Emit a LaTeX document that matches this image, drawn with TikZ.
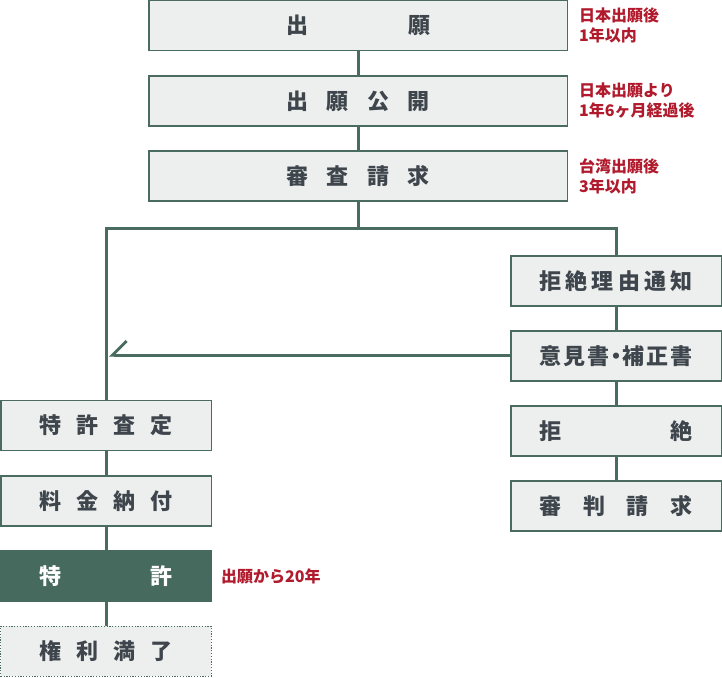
\documentclass[tikz,border=0pt]{standalone}
\usepackage{fontspec}
\setmainfont{Noto Sans CJK JP}
\usepackage{xcolor}
\usepackage{tikz}
\usetikzlibrary{arrows.meta, positioning}
\definecolor{boxFill}{HTML}{ECEFED}
\definecolor{boxLine}{HTML}{4A6B60}
\definecolor{grantFill}{HTML}{476A5E}
\definecolor{ink}{HTML}{3E454C}
\definecolor{limit}{HTML}{B01A2C}
\newcommand{\spread}[2]{\makebox[#1]{#2}}

\begin{document}
\begin{tikzpicture}[x=1pt, y=-1pt,
  every node/.style={font=\bfseries\fontsize{22}{26}\selectfont, color=ink},
  pbox/.style={draw=boxLine, fill=boxFill, line width=1.5pt,
    minimum height=50pt, inner sep=0pt},
  wbox/.style={pbox, minimum width=418.5pt},
  nbox/.style={pbox, minimum width=210.5pt},
  pnote/.style={anchor=west, align=left, inner sep=0pt, color=limit,
    font=\bfseries\fontsize{16}{20}\selectfont},
  link/.style={draw=boxLine, line width=3pt}
]
\useasboundingbox (0,0) rectangle (722,677);

% main line
\node[wbox] (apply)   at (358,25.75) {\spread{144pt}{出\hfill 願}};
\node[wbox] (publish) at (358,101)   {\spread{144pt}{出\hfill 願\hfill 公\hfill 開}};
\node[wbox] (request) at (358,176)   {\spread{144pt}{審\hfill 査\hfill 請\hfill 求}};

% right branch
\node[nbox] (notice) at (616,281) {\spread{153pt}{拒\hfill 絶\hfill 理\hfill 由\hfill 通\hfill 知}};
\node[nbox] (reply)  at (616,356) {\spread{153pt}{意\hfill 見\hfill 書\hfill\kern-6pt・\kern-6pt\hfill 補\hfill 正\hfill 書}};
\node[nbox] (reject) at (616,431) {\spread{153pt}{拒\hfill 絶}};
\node[nbox] (appeal) at (616,506) {\spread{153pt}{審\hfill 判\hfill 請\hfill 求}};

% left branch
\node[nbox] (allow)  at (106,425.5) {\spread{133pt}{特\hfill 許\hfill 査\hfill 定}};
\node[nbox] (fee)    at (106,501)   {\spread{133pt}{料\hfill 金\hfill 納\hfill 付}};
\node[nbox, fill=grantFill, draw=grantFill, text=white] (grant) at (106,576) {\spread{133pt}{特\hfill 許}};
\node[nbox, line width=0.9pt, dash pattern=on 1.2pt off 1.6pt] (expire) at (106,651) {\spread{133pt}{権\hfill 利\hfill 満\hfill 了}};

% time limits
\node[pnote] (applyNote)   at (579,25.75) {日本出願後\\1年以内};
\node[pnote] (publishNote) at (579,101)   {日本出願より\\1年6ヶ月経過後};
\node[pnote] (requestNote) at (579,176)   {台湾出願後\\3年以内};
\node[pnote] (grantNote)   at (221,576)   {出願から20年};

% connectors
\coordinate (fork) at (358,228);
\coordinate (merge) at (109,355);
\draw[link] (apply) -- (publish);
\draw[link] (publish) -- (request);
\draw[link] (request.south) -- (fork);
\draw[link] (allow.north) -- (allow.north |- fork) -- (notice.north |- fork) -- (notice.north);
\draw[link] (notice) -- (reply);
\draw[link] (reply) -- (reject);
\draw[link] (reject) -- (appeal);
\draw[link, -{Straight Barb[right, length=14pt, width=28pt]}] (reply.west |- merge) -- (merge);
\draw[link] (allow) -- (fee);
\draw[link] (fee) -- (grant);
\draw[link] (grant) -- (expire);
\end{tikzpicture}
\end{document}
